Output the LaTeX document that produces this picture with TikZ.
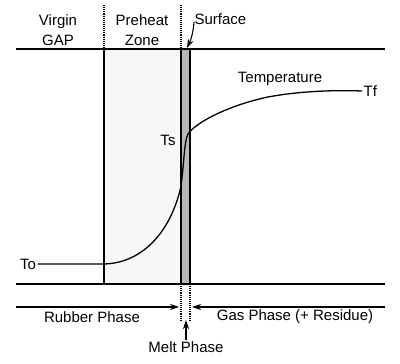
\documentclass[tikz,border=0pt]{standalone}
\usepackage{fontspec}
\setmainfont{Liberation Sans}
\usetikzlibrary{positioning, arrows.meta}

\begin{document}
\begin{tikzpicture}[x=1pt, y=-1pt, >={Stealth[length=9pt,width=6pt]}, line width=1.3pt,
    every node/.style={font=\fontsize{15}{20}\selectfont, inner sep=1pt},
    dotline/.style={densely dotted, line width=1.1pt}]
  \useasboundingbox (0,0) rectangle (400,364);

  % preheat zone and surface strip
  \fill[black!3] (104,49) rectangle (181,284);
  \fill[black!28] (181,49) rectangle (190,284);
  \foreach \x in {104,181,190}
    \draw (\x,49) -- (\x,284);
  \foreach \y in {49,284}
    \draw (16,\y) -- (385,\y);

  % dotted boundaries
  \foreach \x in {104,181}
    \draw [dotline] (\x,5) -- (\x,49);
  \foreach \x in {181,190}
    \draw [dotline] (\x,284) -- (\x,320);

  % labels
  \node [align=center] (virgin) at (58,30) {Virgin\\GAP};
  \node [align=center] (preheat) at (142,30) {Preheat\\Zone};
  \node [anchor=west] (surface) at (193,19) {Surface};
  \node (temp) at (280,79) {Temperature};
  \node (ts) at (168,140) {Ts};
  \node (to) at (28,264) {To};
  \node [anchor=west] (tf) at (362,91) {Tf};
  \node (rubber) at (92,317) {Rubber Phase};
  \node (gas) at (295,317) {Gas Phase (+ Residue)};
  \node (melt) at (186,347) {Melt Phase};

  \coordinate (strip) at (187,48);
  \coordinate (rleft) at (16,307);
  \coordinate (rright) at (179,307);
  \coordinate (gleft) at (192,307);
  \coordinate (gright) at (385,307);
  \coordinate (meltend) at (186,320);

  % arrows
  \draw [->, line width=1.1pt] (surface.south west) ++(1,-4) to[bend left=10] (strip);
  \draw [->, line width=1.1pt] (rleft) -- (rright);
  \draw [->, line width=1.1pt] (gright) -- (gleft);
  \draw [->, line width=1.1pt] (melt.north) -- (meltend);

  % temperature profile
  \draw (to.east) -- (104,264)
    .. controls (145,263) and (172,228) .. (181,186)
    .. controls (184,165) and (184,142) .. (188,134)
    .. controls (196,122) and (230,105) .. (268,97)
    .. controls (300,91) and (335,90) .. (tf.west);
\end{tikzpicture}
\end{document}
